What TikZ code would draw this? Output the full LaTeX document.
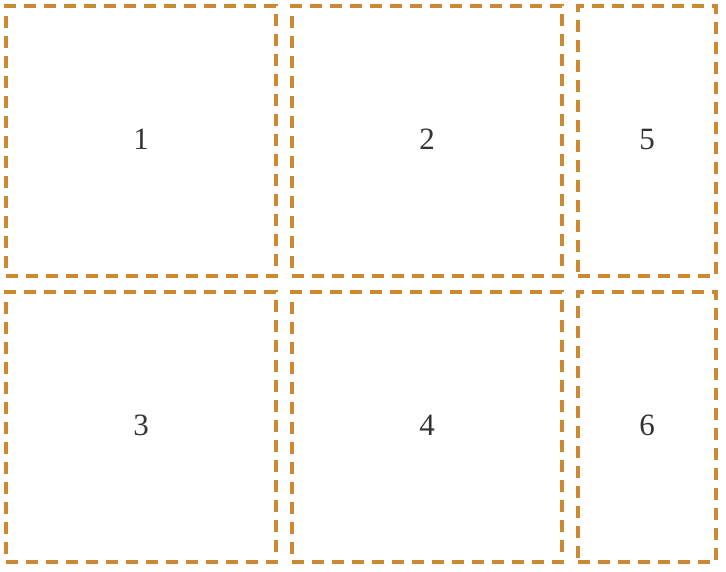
\documentclass[tikz,border=0pt]{standalone}
\usepackage{fontspec}
\setmainfont{Liberation Serif}
\definecolor{boxorange}{RGB}{205,137,50}
\definecolor{txtgrey}{RGB}{51,51,51}
\newcommand{\paneltext}[1]{\raisebox{3.5pt}{#1}}
\begin{document}
\begin{tikzpicture}[x=1pt,y=-1pt,
  panel/.style={draw=boxorange, line width=4pt, dash pattern=on 12pt off 8pt,
    inner sep=0pt, outer sep=0pt, minimum height=270pt,
    font=\fontsize{31}{36}\selectfont, text=txtgrey}]
\useasboundingbox (0,0) rectangle (726,572);
\node[panel, minimum width=270pt] (p1) at (141,141) {\paneltext{1}};
\node[panel, minimum width=270pt] (p2) at (427,141) {\paneltext{2}};
\node[panel, minimum width=138pt] (p5) at (647,141) {\paneltext{5}};
\node[panel, minimum width=270pt] (p3) at (141,427) {\paneltext{3}};
\node[panel, minimum width=270pt] (p4) at (427,427) {\paneltext{4}};
\node[panel, minimum width=138pt] (p6) at (647,427) {\paneltext{6}};
\end{tikzpicture}
\end{document}
